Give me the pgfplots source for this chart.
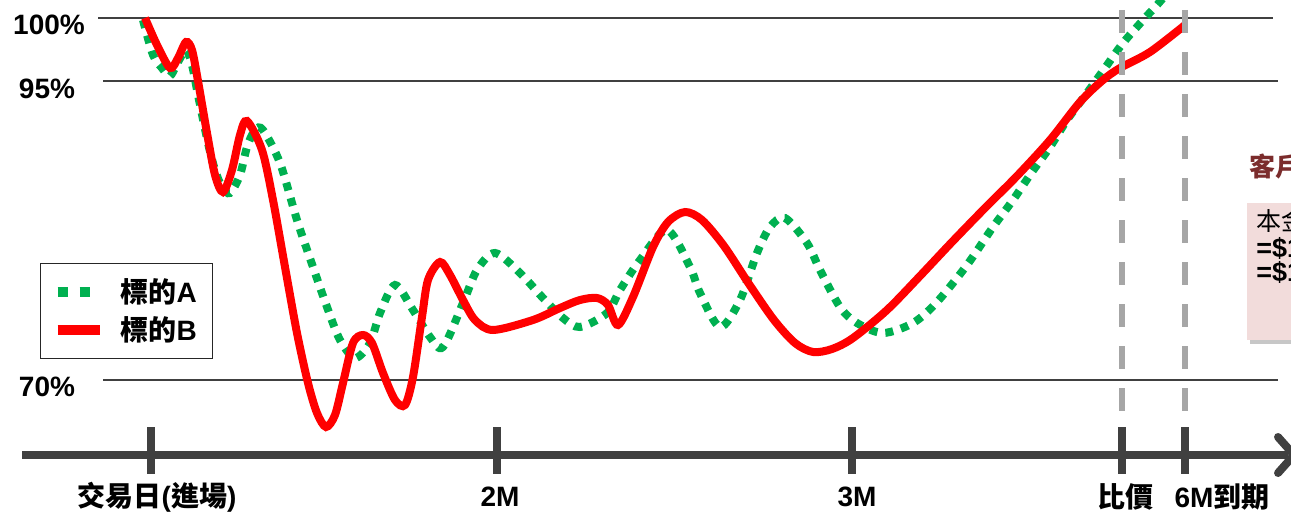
\documentclass[border=0pt]{standalone}
\usepackage{pgfplots}
\pgfplotsset{compat=1.18}
\usepackage{fontspec}
\setmainfont{Liberation Sans}
\newfontfamily\cjk{Noto Sans CJK TC}
\newcommand\zh[1]{{\cjk #1}}
\definecolor{cgreen}{HTML}{00B050}
\definecolor{cred}{HTML}{FF0000}
\definecolor{cgrid}{HTML}{404040}
\definecolor{cdash}{HTML}{A6A6A6}
\definecolor{cpink}{HTML}{F2DCDB}
\definecolor{cbrown}{HTML}{7B2C2C}
\pgfplotstableread{
x y
145 18
157 45
170 68
178 58
186 42
192 50
198 81
207 133
215 175
223 192
232 170
240 135
247 121
262 150
273 200
285 267
297 333
308 383
317 413
326 427
335 415
343 383
353 343
363 335
372 343
383 373
395 400
405 405
413 377
422 317
428 280
440 262
450 275
463 300
475 320
493 330
533 320
560 308
580 300
597 298
608 305
618 325
633 297
653 247
668 222
685 212
702 220
724 246
749 284
774 320
795 343
813 352
832 349
853 338
887 310
920 276
952 242
985 208
1017 176
1050 140
1080 102
1103 80
1120 68
1150 52
1185 25
}\serB
\pgfplotstableread{
x y
143 20
153 55
162 68
170 76
178 62
186 50
192 65
198 95
208 143
215 170
222 187
230 193
240 175
247 147
255 130
263 130
280 163
297 220
313 267
327 307
340 340
355 358
370 343
380 313
395 285
413 310
430 337
443 347
463 303
477 270
495 253
520 273
543 298
563 318
580 327
607 313
620 290
640 260
667 230
690 267
700 293
720 327
740 300
757 253
770 227
785 218
807 243
820 270
840 307
857 323
883 333
913 323
937 302
967 265
993 227
1013 200
1032 172
1050 147
1067 120
1087 93
1105 68
1123 43
1145 18
1157 5
1170 -10
}\serA
\begin{document}
\begin{tikzpicture}
\begin{axis}[
  at={(0,0)}, anchor=south west,
  scale only axis, width=645.5bp, height=256bp,
  xmin=0, xmax=1291, ymin=0, ymax=512, y dir=reverse,
  axis lines=none,
  legend style={at={(axis cs:40,263)}, anchor=north west, draw=black!85, line width=0.6bp,
    inner xsep=6bp, inner ysep=5.5bp, row sep=1.5bp,
    font=\bfseries\fontsize{14bp}{16bp}\selectfont,
    /tikz/every odd column/.append style={column sep=6bp}},
  legend cell align=left,
  legend image code/.code={\draw[#1] (0bp,0bp) -- (21bp,0bp);},
]
% grid lines
\draw[cgrid, line width=1.3bp] (axis cs:98,18) -- (axis cs:1273,18);
\draw[cgrid, line width=1.3bp] (axis cs:103,81) -- (axis cs:1278,81);
\draw[cgrid, line width=1.3bp] (axis cs:103,380) -- (axis cs:1278,380);
% y labels
\begin{scope}[every node/.style={font=\bfseries\fontsize{14bp}{16bp}\selectfont, inner sep=0pt}]
\node at (axis cs:49,25) {100\%};
\node at (axis cs:47,89) {95\%};
\node at (axis cs:47,387) {70\%};
\end{scope}
% x axis
\draw[cgrid, line width=4bp] (axis cs:22,455) -- (axis cs:1288,455);
\draw[cgrid, line width=4bp, line cap=round, line join=round] (axis cs:1278,437) -- (axis cs:1294,455) -- (axis cs:1278,473);
\foreach \t in {151,497,852,1122,1185}{
  \edef\tmp{\noexpand\draw[cgrid, line width=4bp] (axis cs:\t,427) -- (axis cs:\t,474);}\tmp
}
\begin{scope}[every node/.style={font=\bfseries\fontsize{14bp}{16bp}\selectfont, inner sep=0pt}]
\node at (axis cs:157,497) {\zh{交易日}(\zh{進場})};
\node at (axis cs:500,497) {2M};
\node at (axis cs:857,497) {3M};
\node at (axis cs:1125,497) {\zh{比價}};
\node at (axis cs:1222,497) {6M\zh{到期}};
\end{scope}
% right box
\fill[black!22] (axis cs:1250,207) rectangle (axis cs:1300,344);
\fill[cpink] (axis cs:1247,203) rectangle (axis cs:1300,340);
\node[anchor=west, inner sep=0pt, text=cbrown, font=\bfseries\fontsize{13bp}{15bp}\selectfont] at (axis cs:1249,167) {\zh{客戶收益}};
\node[anchor=west, inner sep=0pt, font=\fontsize{12.5bp}{14bp}\selectfont] at (axis cs:1256,221) {\zh{本金保障}};
\begin{scope}[every node/.style={anchor=west, inner sep=0pt, font=\bfseries\fontsize{13.5bp}{15bp}\selectfont}]
\node at (axis cs:1256,248) {=\$100};
\node at (axis cs:1256,272) {=\$100};
\end{scope}
% series
\addlegendimage{color=cgreen, line width=5bp, dash pattern=on 5bp off 6bp}
\addlegendentry{\zh{標的}A}
\addlegendimage{color=cred, line width=5bp}
\addlegendentry{\zh{標的}B}
\addplot[forget plot, color=cgreen, line width=4bp, dash pattern=on 4bp off 4bp, smooth, tension=0.5] table {\serA};
\addplot[forget plot, color=cred, line width=4bp, smooth, tension=0.5] table {\serB};
% dashed verticals
\draw[cdash, line width=3bp, dash pattern=on 11.5bp off 9.5bp] (axis cs:1122,10) -- (axis cs:1122,411);
\draw[cdash, line width=3bp, dash pattern=on 11.5bp off 9.5bp] (axis cs:1185,10) -- (axis cs:1185,411);
\end{axis}
\pgfresetboundingbox
\path[use as bounding box] (0,0) rectangle (645.5bp,256bp);
\end{tikzpicture}
\end{document}
